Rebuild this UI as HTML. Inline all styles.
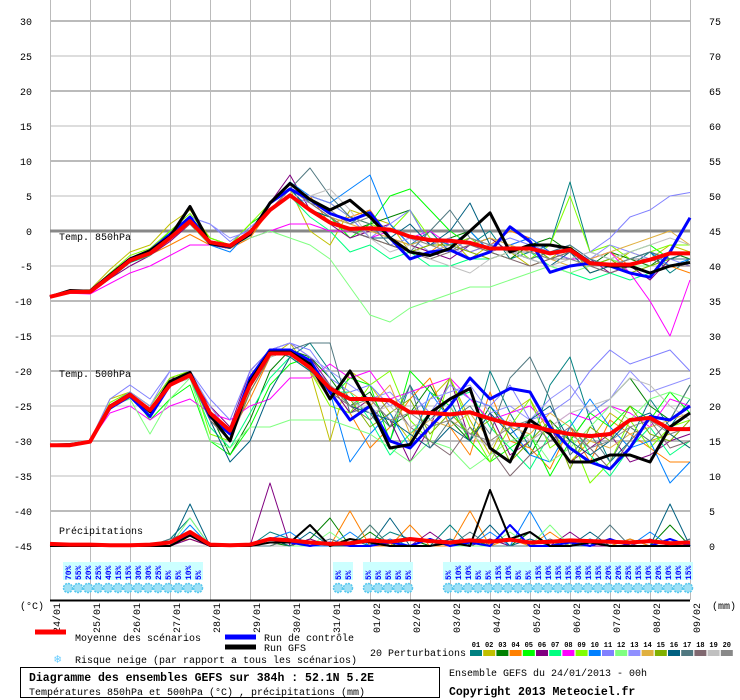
<!DOCTYPE html>
<html><head><meta charset="utf-8"><style>
body{margin:0;background:#fff;width:740px;height:700px;overflow:hidden}
svg{display:block;font-family:"Liberation Mono",monospace}
</style></head><body>
<svg id="c" width="740" height="700">
<rect x="50" y="0" width="640" height="600" fill="#fff"/>
<g id="grid"></g><g id="series"></g><g id="snow"></g><g id="axes"></g>
<text x="59" y="240" font-size="10">Temp. 850hPa</text>
<text x="59" y="377" font-size="10">Temp. 500hPa</text>
<text x="59" y="534" font-size="10">Précipitations</text>
<text x="20" y="609" font-size="10">(°C)</text>
<text x="712" y="609" font-size="10">(mm)</text>
<g>
<line x1="35" y1="632" x2="66" y2="632" stroke="#f00" stroke-width="5"/>
<text x="75" y="641" font-size="10">Moyenne des scénarios</text>
<line x1="225" y1="637" x2="256" y2="637" stroke="#00f" stroke-width="5"/>
<text x="264" y="641" font-size="10">Run de contrôle</text>
<line x1="225" y1="647" x2="256" y2="647" stroke="#000" stroke-width="5"/>
<text x="264" y="651" font-size="10">Run GFS</text>
<text x="54" y="663" font-size="12" fill="#6cf">❄</text>
<text x="75" y="663" font-size="10">Risque neige (par rapport a tous les scénarios)</text>
<text x="370" y="656" font-size="10">20 Perturbations</text>
<g id="pert"></g>
</g>
<rect x="20.5" y="667.5" width="419" height="30" fill="none" stroke="#000"/>
<text x="29" y="681" font-size="11.5" font-weight="bold">Diagramme des ensembles GEFS sur 384h : 52.1N 5.2E</text>
<text x="29" y="695" font-size="10">Températures 850hPa et 500hPa (°C) , précipitations (mm)</text>
<text x="449" y="676" font-size="10">Ensemble GEFS du 24/01/2013 - 00h</text>
<text x="449" y="695" font-size="11.5" font-weight="bold">Copyright 2013 Meteociel.fr</text>
</svg>
<script>
const dates=["24/01","25/01","26/01","27/01","28/01","29/01","30/01","31/01","01/02","02/02","03/02","04/02","05/02","06/02","07/02","08/02","09/02"];
const leftTicks=[30,25,20,15,10,5,0,-5,-10,-15,-20,-25,-30,-35,-40,-45];
const rightTicks=[75,70,65,60,55,50,45,40,35,30,25,20,15,10,5,0];
const memberColors=["#008080","#c0c000","#008000","#ff8000","#00ff00","#800080","#00ff80","#ff00ff","#80ff00","#0080ff","#8080ff","#80ff80","#9090ff","#e0b040","#80b000","#006080","#507880","#806870","#c0c0c0","#888888"];
const mean850=[-9.4,-8.7,-8.7,-6.5,-4.2,-3.2,-1,1.4,-1.6,-2.1,-0.2,3,5.1,3,1.2,0.3,0.4,0.2,-0.8,-1.3,-1.4,-1.7,-2.5,-2.5,-2.5,-3.2,-2.7,-4.6,-4.8,-4.8,-4.1,-3.2,-3.2];
const ctrl850=[-9.4,-8.6,-8.6,-6.3,-4,-2.8,-0.5,2,-1.8,-2.2,-0.5,4,6,4.5,2.5,1.5,2.6,-1,-4,-3,-2.7,-4,-3,0.6,-1.5,-5.9,-5,-4.6,-5,-6,-6.6,-3,1.9];
const gfs850=[-9.4,-8.5,-8.6,-6.3,-4,-2.8,-0.8,3.5,-1.8,-2.2,-0.5,4,6.8,4.5,3,4.4,2,-1,-3,-3.5,-2.5,0,2.6,-3,-2,-2,-2.5,-4.5,-5,-5,-6,-5,-4.5];
const mean500=[-30.6,-30.6,-30.1,-25.1,-23.4,-25.6,-22,-20.6,-26,-28.5,-22,-17.5,-17.5,-19.5,-22.5,-24,-24,-24.2,-25.9,-26,-26.2,-25.9,-26.8,-27.6,-27.8,-28.5,-29,-29.3,-29,-27,-26.7,-28.3,-28.3];
const ctrl500=[-30.6,-30.6,-30.1,-25.3,-23.6,-26.5,-22,-20.3,-26.5,-29,-21,-17,-17,-18.5,-23,-27,-25,-30,-31,-28,-25,-21,-24,-22.5,-23,-28,-31,-33,-34,-31,-26.5,-27,-25];
const gfs500=[-30.6,-30.5,-30.1,-25,-23.3,-25.8,-21.5,-20.2,-26.3,-30,-21.5,-17.3,-17.3,-19,-24,-20,-25,-31,-30.5,-26,-24,-22.5,-31,-33,-27,-29,-33,-33,-32,-32,-33,-28,-26];
const meanPrecip=[0.3,0.2,0.2,0.1,0.1,0.2,0.5,2,0.2,0.1,0.2,1,0.8,0.5,0.3,0.4,0.8,0.6,1,0.7,0.5,0.8,0.6,0.9,0.5,0.6,0.8,0.7,0.6,0.5,0.7,0.4,0.5];
const ctrlPrecip=[0,0,0,0,0,0,0.5,1.5,0,0,0,1,0.5,0,0.5,0,0,0.5,0,1,0,0.5,0,3,0,0,0.5,0,1,0,0,1,0];
const gfsPrecip=[0,0,0,0,0,0,0,1.5,0,0,0,0.5,0.5,3,0,1,0.5,0,0,0,0.5,0,8,1,2,0,0,0.5,0,0,0,0,0];
const m850=[
[-9.4,-8.6,-8.8,-6,-4,-3,-0.5,2,-1.5,-2,0,4,7,4,2,1,3,-1,-2,0,-3,-2,0,-4,-3,-2,7,-3,-4,-5,-3,-6,-4],
[-9.4,-8.5,-8.4,-5.5,-3,-2,1,3,-1,-2,1,3,6,0,-2,3,2,1,-3,-2,-1,-4,-2,-3,-5,-4,-2,-6,-5,-3,-4,-2,-3],
[-9.4,-8.8,-8.9,-6.8,-4.5,-3.5,-1,1,-2,-2.5,0,4,6,3,2,0,1,2,3,-2,-1,0,-3,-4,-2,-1,-3,-5,-3,-4,-5,-3,-4],
[-9.4,-8.7,-8.6,-6.5,-4.3,-3.4,-2,-0.5,-2,-2.5,-1,3,6,5,1,2,3,-1,-2,-3,-1,-3,-2,0,-1,-3,-4,-4,-3,-5,-6,-5,-6],
[-9.4,-8.7,-8.6,-6,-4,-3,0,2,-1,-2,1,3,5,3,2,-1,1,5,6,3,0,-2,-1,-3,-2,-4,-3,-5,-4,-3,-2,-4,-3],
[-9.4,-8.8,-8.9,-6.8,-5,-3.5,-1.5,1,-2,-2.5,0,4,8,3,1,-1,0,1,-2,-3,-4,-2,-1,-3,-4,-3,-4,-4,-6,-5,-7,-4,-3],
[-9.4,-8.7,-8.8,-6.5,-4.5,-3.5,-1,1.5,-2,-2,0,3,5,2,0,-3,-2,-4,-3,-5,-5,-4,-4,-3,-3,-5,-6,-7,-6,-7,-6,-5,-5],
[-9.4,-8.9,-9,-7.5,-6,-5,-3.5,-2,-2,-2,-1,0,1,1,0,0,-1,0,-1,0,-2,-1,-3,-2,-1,-3,-4,-4,-3,-6,-10,-15,-7],
[-9.4,-8.6,-8.5,-6,-3.5,-2.5,0,2.5,-1,-2,1,4,6,5,4,2,1,0,3,-1,-2,-1,-3,-2,-4,-2,5,-3,-2,-4,-3,-2,-2],
[-9.4,-8.6,-8.7,-6.2,-4,-3,-0.5,1.5,-2,-3,0,4,7,5,4,6,8,1,-2,-1,-2,0,-3,-2,-1,-3,-2,-4,-5,-4,-3,-5,-4],
[-9.4,-8.6,-8.6,-6.3,-4,-3,-0.3,2,1,-1.5,0.5,3,6,5,4,2,-1,1,3,-2,-1,-3,-2,-1,-2,-3,-4,-3,-1,2,3,5,5.5],
[-9.4,-8.6,-8.6,-6.3,-4,-3,-1,1,-2,-2,-1,0,-1,-2,-4,-8,-12,-13,-11,-10,-9,-8,-8,-7,-6,-5,-6,-5,-4,-5,-5,-4,-3],
[-9.4,-8.6,-8.7,-6.5,-4,-3,-1,2,1,-1,0,3,5,4,2,0,-1,-2,-1,-3,-2,-4,-3,-2,-3,-4,-3,-4,-2,-3,-4,-4,-5],
[-9.4,-8.7,-8.7,-6.5,-4,-3.2,-1,1,-1.5,-2,0,3,6,4,2,1,0,-1,-2,-1,-3,-2,-1,-2,-3,-4,-5,-4,-3,-2,-1,0,-2],
[-9.4,-8.7,-8.7,-6.5,-4.3,-3.2,-1,1.3,-1.6,-2,0,3,5,3,1,0,-1,-2,-3,-2,-2,-3,-4,-3,-2,-4,-3,-5,-4,-6,-5,-4,-3],
[-9.4,-8.7,-8.7,-6.6,-4.5,-3.3,-1,1.5,-1.5,-2.5,0,3,6,3,2,0,-1,-1,1,-2,0,4,-2,-3,-4,-5,-3,-6,-5,-4,-3,-4,-3],
[-9.4,-8.7,-8.7,-6.5,-4.2,-3.3,-1.2,1.2,-1.7,-2,0,4,6,9,5,2,1,-2,-3,0,3,-1,-2,-3,-4,-3,-2,-4,-5,-4,-3,-4,-4],
[-9.4,-8.7,-8.7,-6.5,-4.2,-3.3,-1.2,1,-1.7,-2.2,0,3,6,4,2,0,-1,-2,-3,-4,-3,-2,-3,-4,-5,-4,-3,-5,-6,-5,-4,-5,-5],
[-9.4,-8.7,-8.7,-6.5,-4.2,-3.3,-1.2,1.2,-1.5,-2,0,3,5,5,6,3,-1,-3,-2,-4,-5,-6,-4,-3,-4,-5,-4,-3,-4,-3,-2,-1,-2],
[-9.4,-8.7,-8.7,-6.5,-4.2,-3.3,-1.2,1.3,-1.5,-2,0,3,6,4,3,1,2,0,-1,-2,-3,-1,-2,-3,-3,-4,-4,-5,-5,-4,-4,-3,-3]];
const m500=[
[-30.6,-30.5,-30,-25,-23,-26,-21,-20,-27,-30,-21,-17,-18,-16,-20,-24,-26,-30,-22,-27,-24,-30,-20,-26,-31,-22,-18,-27,-33,-30,-24,-28,-24],
[-30.6,-30.6,-30,-24,-23,-25,-21,-20,-26,-29,-23,-18,-16,-20,-30,-20,-22,-26,-30,-24,-21,-27,-32,-26,-24,-29,-33,-30,-26,-28,-30,-29,-31],
[-30.6,-30.7,-30.2,-25.5,-23.5,-26,-22,-20,-26,-32,-27,-20,-17,-18,-21,-25,-23,-28,-26,-22,-27,-30,-25,-29,-32,-27,-30,-26,-24,-21,-25,-27,-22],
[-30.6,-30.6,-30.1,-25,-23.5,-25.5,-22,-20.5,-25,-29,-24,-18,-17,-19,-22,-26,-31,-28,-24,-21,-28,-32,-23,-30,-31,-34,-28,-33,-27,-29,-31,-33,-33],
[-30.6,-30.6,-30.1,-25,-23,-27,-24,-22,-30,-32,-28,-22,-19,-18,-24,-21,-22,-30,-20,-23,-25,-30,-33,-31,-29,-35,-30,-26,-28,-25,-27,-23,-26],
[-30.6,-30.6,-30.1,-25.2,-23,-25,-21,-21,-25,-28,-20,-17,-16,-18,-22,-26,-24,-27,-33,-28,-21,-30,-26,-32,-30,-28,-33,-31,-29,-33,-32,-30,-29],
[-30.6,-30.6,-30.1,-25,-23.5,-26,-22,-21,-28,-31,-26,-21,-18,-20,-23,-23,-27,-32,-29,-26,-24,-23,-28,-31,-34,-29,-27,-32,-35,-31,-28,-32,-30],
[-30.6,-30.6,-30.1,-26,-25,-27,-25,-24,-26,-27,-25,-24,-21,-21,-19,-21,-20,-24,-23,-22,-21,-24,-27,-26,-25,-28,-26,-27,-25,-26,-28,-24,-25],
[-30.6,-30.5,-30,-24.5,-23,-25,-21,-20,-29,-30,-23,-18,-17,-20,-25,-26,-22,-20,-27,-30,-21,-28,-33,-28,-24,-31,-29,-36,-33,-27,-31,-28,-27],
[-30.6,-30.6,-30.1,-25,-23,-26,-22,-21,-26,-29,-21,-17,-17,-19,-23,-33,-29,-26,-31,-23,-27,-24,-25,-28,-32,-33,-28,-24,-28,-31,-30,-36,-33],
[-30.6,-30.6,-30,-24,-22,-24,-20,-20,-24,-27,-20,-17,-16,-17,-21,-23,-22,-25,-23,-26,-22,-24,-25,-22,-27,-26,-24,-20,-17,-19,-18,-17,-20],
[-30.6,-30.6,-30.1,-25,-24,-29,-24,-21,-30,-31,-28,-28,-27,-27,-27,-28,-29,-31,-33,-30,-31,-34,-32,-30,-29,-33,-31,-28,-25,-27,-24,-23,-24],
[-30.6,-30.6,-30.1,-25,-23,-25,-20,-20,-25,-29,-21,-17,-16,-18,-20,-22,-24,-23,-26,-24,-23,-22,-26,-25,-27,-24,-22,-26,-24,-20,-23,-22,-21],
[-30.6,-30.6,-30.1,-25,-23.5,-26,-22,-20.5,-27,-30,-22,-17,-17,-20,-24,-23,-25,-22,-29,-27,-28,-26,-30,-28,-29,-26,-28,-30,-31,-29,-28,-27,-26],
[-30.6,-30.6,-30.1,-25,-23.5,-25.5,-22,-20.5,-26,-29,-22,-18,-17,-19,-23,-24,-28,-26,-24,-29,-26,-29,-27,-33,-30,-27,-34,-28,-30,-25,-29,-30,-27],
[-30.6,-30.6,-30.1,-25,-23.5,-25.5,-22,-21,-27,-33,-30,-23,-18,-20,-22,-25,-26,-27,-29,-31,-28,-30,-26,-29,-27,-25,-30,-32,-30,-27,-26,-29,-31],
[-30.6,-30.6,-30.1,-25,-23.5,-25.5,-22,-21,-26,-29,-22,-18,-17,-16,-16,-26,-25,-28,-22,-31,-27,-25,-29,-21,-18,-24,-32,-29,-33,-28,-30,-27,-22],
[-30.6,-30.6,-30.1,-25,-23.5,-25.5,-22,-21,-27,-30,-23,-18,-17,-19,-23,-25,-27,-24,-28,-30,-32,-28,-31,-35,-32,-30,-28,-31,-34,-30,-27,-31,-30],
[-30.6,-30.6,-30.1,-25,-23.5,-25.5,-22,-21,-26,-29,-22,-18,-17,-19,-22,-24,-26,-25,-28,-27,-25,-29,-31,-27,-30,-28,-26,-25,-24,-21,-22,-25,-27],
[-30.6,-30.6,-30.1,-25,-23.5,-25.5,-22,-20.5,-26,-29,-21,-17,-17,-19,-22,-25,-24,-27,-26,-28,-27,-29,-30,-28,-27,-30,-29,-31,-30,-28,-27,-29,-28]];
const precipMembers=[0,2,3,5,9,11,15,16];
const mPrecip=[
[0,0,0,0,0,0,1,4,0,0,0,2,1,0,0,1,0,2,1,0,3,0,1,0,2,0,1,0,0,1,0,0,0],
[0,0,0,0,0,0,0,2,0,0,0,0.5,0,1,4,0,2,0,1,0,0,1,0,0,2,0,0,1,0,0,0,3,0],
[0,0,0,0,0,0,0.5,1,0,0,0,0,1,0,0,5,0,0,3,0,0,5,0,1,0,2,0,0,0,1,0,0,1],
[0,0,0,0,0,0,0,1,0,0,0,9,0,1,0,0,1,0,0,2,0,0,1,0,0,0,2,0,0,0,1,0,0],
[0,0,0,0,0,0,0,3,0,0,0,1,2,0,0,2,0,1,0,0,1,0,2,0,5,0,0,1,0,0,2,0,1],
[0,0,0,0,0,0,0,4,0,0,0,1,0,0,2,0,3,0,0,1,0,0,0,2,0,3,0,0,1,0,0,1,0],
[0,0,0,0,0,0,0,6,0,0,0,1,0,2,0,0,0,4,0,0,1,0,3,0,1,0,0,2,0,0,0,6,0],
[0,0,0,0,0,0,1,2,0,0,0,0,1,0,1,0,3,0,0,1,0,2,0,0,0,1,0,0,3,0,0,0,1]];
const snowSlots=[2,3,4,5,6,7,8,9,10,11,12,13,14,15,29,30,32,33,34,35,36,40,41,42,43,44,45,46,47,48,49,50,51,52,53,54,55,56,57,58,59,60,61,62,63,64];
const snowPct=[70,55,20,25,40,15,15,30,30,25,5,5,10,5,5,5,5,5,5,5,5,5,10,10,5,5,15,10,5,5,15,10,15,15,30,15,15,20,20,25,15,10,20,10,10,15];

const NS="http://www.w3.org/2000/svg";
function mk(tag,attrs,parent){const e=document.createElementNS(NS,tag);for(const k in attrs)e.setAttribute(k,attrs[k]);parent.appendChild(e);return e;}
const X0=50,DAYW=40;
function xStep(i){return X0+i*20;}
function xSlot(i){return X0+i*10;}
function xDay(d){return X0+d*DAYW;}
function yT(v){return 231-v*7;}
function yP(mm){return 546-mm*7;}

const grid=document.getElementById('grid'),axes=document.getElementById('axes'),series=document.getElementById('series'),snow=document.getElementById('snow');
dates.forEach((d,i)=>{
  const l=mk('line',{x1:xDay(i)+0.5,y1:0,x2:xDay(i)+0.5,y2:600,stroke:'#bbb','stroke-width':1},grid);
  
  
  const t=mk('text',{x:0,y:0,'font-size':10,transform:`translate(${xDay(i)+10},${633}) rotate(-90)`},axes);
  t.textContent=d;
  
  
});
leftTicks.forEach((v,i)=>{
  const y=yT(v);
  const l=mk('line',{x1:50,y1:y,x2:690,y2:y,stroke:'#bbb','stroke-width':(v%10===0)?2:1},grid);
  
  
  const t=mk('text',{x:32,y:y+4,'font-size':10,'text-anchor':'end'},axes);
  t.textContent=v;
  
  
  const r=mk('text',{x:709,y:y+4,'font-size':10},axes);
  r.textContent=rightTicks[i];
  
  
});
const z=mk('line',{x1:50,y1:yT(0),x2:690,y2:yT(0),stroke:'#888','stroke-width':3},grid);


const bx=mk('line',{x1:50,y1:600.5,x2:690,y2:600.5,stroke:'#000','stroke-width':2},axes);



function poly(arr,yf,color,w,name){
  const pts=arr.map((v,i)=>xStep(i)+','+yf(v).toFixed(1)).join(' ');
  const p=mk('polyline',{points:pts,fill:'none',stroke:color,'stroke-width':w,'stroke-linejoin':'round'},series);
  
  
}
m850.forEach((a,k)=>poly(a,yT,memberColors[k],1,'member-850-line'));
m500.forEach((a,k)=>poly(a,yT,memberColors[k],1,'member-500-line'));
mPrecip.forEach((a,k)=>poly(a,yP,memberColors[precipMembers[k]],1,'member-precip-line'));
poly(ctrl850,yT,'#00f',3,'control-850-line');
poly(gfs850,yT,'#000',3,'gfs-850-line');
poly(ctrl500,yT,'#00f',3,'control-500-line');
poly(gfs500,yT,'#000',3,'gfs-500-line');
poly(ctrlPrecip,yP,'#00f',2,'control-precip-line');
poly(gfsPrecip,yP,'#000',2,'gfs-precip-line');
poly(mean850,yT,'#f00',4,'mean-850-line');
poly(mean500,yT,'#f00',4,'mean-500-line');
poly(meanPrecip,yP,'#f00',4,'mean-precip-line');

snowSlots.forEach((s,i)=>{
  const x=xSlot(s)-2;
  const bg=mk('rect',{x:x-5,y:562,width:10,height:18,fill:'#ccffff'},snow);
  
  
  const f=mk('circle',{cx:x,cy:588,r:4.5,fill:'#9fe0f5',stroke:'#55c8ee','stroke-width':1.5,'stroke-dasharray':'2 1'},snow);
  
  
  const t=mk('text',{x:0,y:0,'font-size':8,'font-weight':'bold',fill:'#00f',transform:`translate(${x+3},${580}) rotate(-90)`},snow);
  t.textContent=snowPct[i]+'%';
  
  
});
const pert=document.getElementById('pert');
memberColors.forEach((c,i)=>{
  const x=470+i*13.2;
  const r=mk('rect',{x:x,y:650,width:12,height:6,fill:c},pert);
  
  
  const t=mk('text',{x:x+6,y:647,'font-size':7,'font-weight':'bold','text-anchor':'middle'},pert);
  t.textContent=String(i+1).padStart(2,'0');
  
  
});
</script>
</body></html>
